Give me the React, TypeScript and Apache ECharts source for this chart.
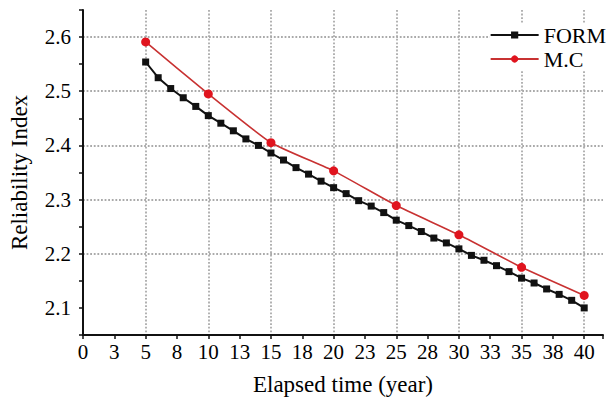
import React, { useEffect, useRef } from "react";
import * as echarts from "echarts";

const formYears = [5, 6, 7, 8, 9, 10, 11, 12, 13, 14, 15, 16, 17, 18, 19, 20, 21, 22, 23, 24, 25, 26, 27, 28, 29, 30, 31, 32, 33, 34, 35, 36, 37, 38, 39, 40];
const formValues = [2.554, 2.525, 2.505, 2.488, 2.472, 2.455, 2.441, 2.427, 2.412, 2.4, 2.386, 2.373, 2.359, 2.347, 2.334, 2.322, 2.311, 2.298, 2.288, 2.276, 2.262, 2.252, 2.241, 2.229, 2.22, 2.209, 2.197, 2.188, 2.178, 2.167, 2.155, 2.146, 2.135, 2.125, 2.114, 2.1];
const mcYears = [5, 10, 15, 20, 25, 30, 35, 40];
const mcValues = [2.591, 2.495, 2.405, 2.353, 2.289, 2.235, 2.175, 2.123];
const xGridValues = [5, 10, 15, 20, 25, 30, 35, 40];
const yGridValues = [2.2, 2.3, 2.4, 2.5, 2.6];

const FONT = "Liberation Serif";
const X_MIN = 0, X_MAX = 41.5, X_STEP = 2.5;
const Y_MIN = 2.05, Y_MAX = 2.65, Y_STEP = 0.05;
const GRID_COLOR = "#aaaaaa";
const NONE = "rgba(255,255,255,0)";

function tickColors(min: number, max: number, step: number, wanted: number[]) {
  const out: string[] = [];
  const n = Math.floor((max - min) / step + 1e-6);
  for (let i = 0; i <= n; i++) {
    const v = min + i * step;
    out.push(wanted.some((w) => Math.abs(w - v) < 1e-6) ? GRID_COLOR : NONE);
  }
  if (min + n * step < max - 1e-6) out.push(NONE);
  return out;
}

export default function App() {
  const ref = useRef<HTMLDivElement>(null);
  useEffect(() => {
    if (!ref.current) return;
    const chart = echarts.init(ref.current, null, { renderer: "svg" });
    chart.setOption({
      animation: false,
      backgroundColor: "#fff",
      grid: { left: 81, right: 0, top: 10, bottom: 68 },
      legend: {
        data: ["FORM", "M.C"],
        orient: "vertical",
        right: 0,
        top: 24,
        itemWidth: 48,
        itemHeight: 9,
        itemGap: 2,
        padding: [0, 0, 0, 0],
        backgroundColor: "#fff",
        textStyle: { fontFamily: FONT, fontSize: 22, color: "#000" },
      },
      xAxis: {
        type: "value",
        min: X_MIN,
        max: X_MAX,
        interval: X_STEP,
        name: "Elapsed time (year)",
        nameLocation: "middle",
        nameGap: 38,
        nameTextStyle: { fontFamily: FONT, fontSize: 23, color: "#000" },
        axisLine: { show: true, lineStyle: { color: "#111", width: 2 } },
        axisTick: { show: true, length: 4, lineStyle: { color: "#111", width: 1.5 } },
        axisLabel: {
          fontFamily: FONT,
          fontSize: 21,
          color: "#000",
          margin: 6,
          formatter: (v: number) => (v > 40.01 ? "" : String(Math.round(v))),
        },
        splitLine: {
          show: true,
          lineStyle: {
            color: tickColors(X_MIN, X_MAX, X_STEP, xGridValues),
            type: "dotted",
            width: 1.8,
          },
        },
      },
      yAxis: {
        type: "value",
        min: Y_MIN,
        max: Y_MAX,
        interval: Y_STEP,
        name: "Reliability Index",
        nameLocation: "middle",
        nameGap: 52,
        nameTextStyle: { fontFamily: FONT, fontSize: 23, color: "#000" },
        axisLine: { show: true, lineStyle: { color: "#111", width: 2 } },
        axisTick: { show: true, length: 4, lineStyle: { color: "#111", width: 1.5 } },
        axisLabel: {
          fontFamily: FONT,
          fontSize: 21,
          color: "#000",
          margin: 12,
          formatter: (v: number) =>
            Math.abs(v * 10 - Math.round(v * 10)) < 1e-6 && v > 2.06 && v < 2.64 ? v.toFixed(1) : "",
        },
        splitLine: {
          show: true,
          lineStyle: {
            color: tickColors(Y_MIN, Y_MAX, Y_STEP, yGridValues),
            type: "dotted",
            width: 1.8,
          },
        },
      },
      series: [
        {
          name: "FORM",
          type: "line",
          z: 3,
          data: formYears.map((x, i) => [x, formValues[i]]),
          symbol: "rect",
          symbolSize: 7,
          itemStyle: { color: "#111" },
          lineStyle: { color: "#111", width: 2 },
        },
        {
          name: "M.C",
          type: "line",
          z: 4,
          data: mcYears.map((x, i) => [x, mcValues[i]]),
          symbol: "circle",
          symbolSize: 9,
          smooth: 0.15,
          itemStyle: { color: "#e0141e" },
          lineStyle: { color: "#c83232", width: 1.6 },
        },
      ],
    });
    return () => chart.dispose();
  }, []);
  return (
    <div
      ref={ref}
      style={{ position: "absolute", left: 0, top: 0, width: 606, height: 403 }}
    />
  );
}
